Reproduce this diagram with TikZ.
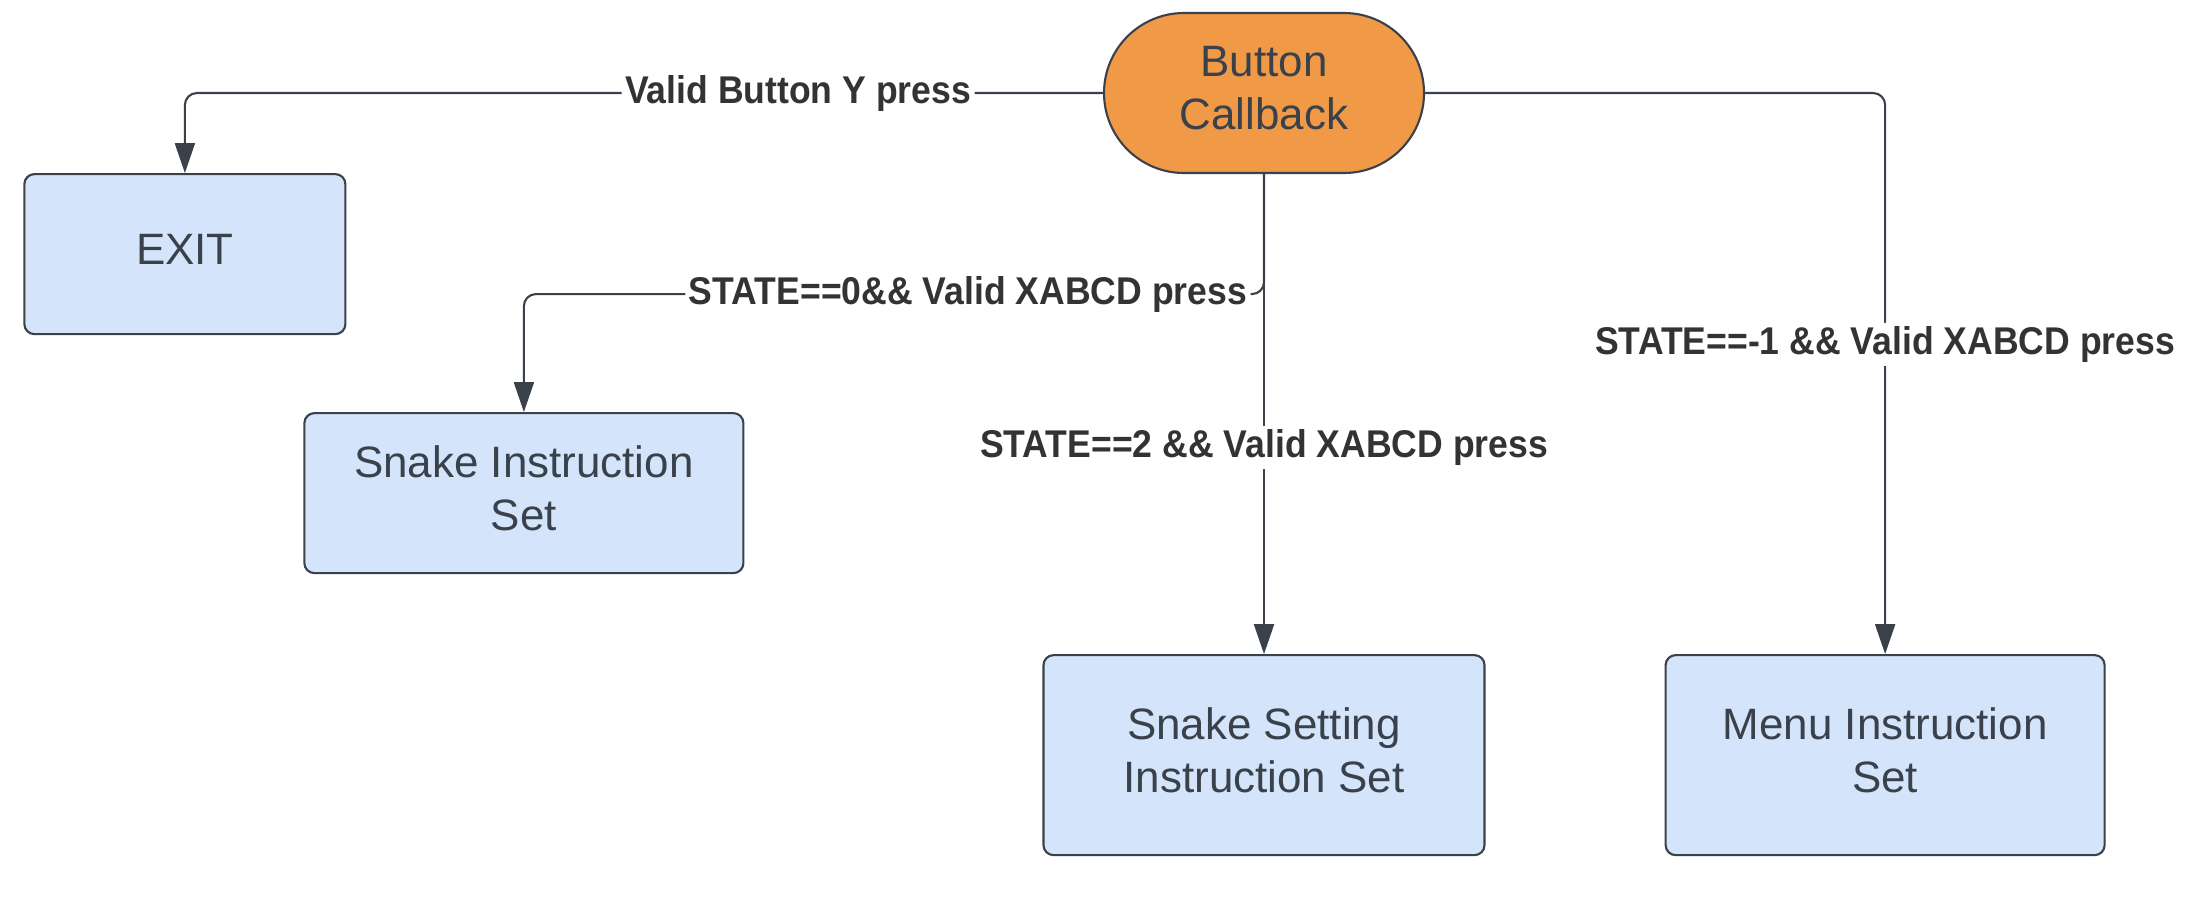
\documentclass[tikz,border=0pt]{standalone}
\usepackage{fontspec}
\setmainfont{Liberation Sans}
\newfontfamily\lblfont[FakeStretch=0.92]{Liberation Sans}
\usepackage{tikz}
\usetikzlibrary{arrows.meta, positioning, calc}
\usepackage{xcolor}
\definecolor{ink}{HTML}{3A414A}
\definecolor{boxblue}{HTML}{D3E4FB}
\definecolor{cborange}{HTML}{F09A48}
\tikzstyle{block} = [rectangle, rounded corners=0.1cm, minimum width=4.39cm, minimum height=1.6cm, align=center, draw=ink, line width=0.6pt, fill=boxblue, text=ink, font=\fontsize{12.5}{15}\selectfont, execute at end node={\rule[-0.1cm]{0pt}{0pt}}]
\tikzstyle{arrow} = [draw=ink, line width=0.6pt, rounded corners=0.12cm, -{Triangle[length=0.3cm,width=0.2cm]}]
\tikzstyle{cond} = [fill=white, text=black!80, inner sep=1pt, font=\lblfont\bfseries\fontsize{11}{13}\selectfont]

\begin{document}
\begin{tikzpicture}
  \useasboundingbox (0,0) rectangle (21.98,9.08);
  \node[block, fill=cborange, rounded corners=0.8cm, minimum width=3.2cm] (cb) at (12.64,8.15) {Button\\Callback};
  \node[block, minimum width=3.21cm, below left=-0.01cm and 7.565cm of cb] (exit) {EXIT};
  \node[block, below left=2.38cm and 3.585cm of cb] (snake) {Snake Instruction\\Set};
  \node[block, minimum width=4.41cm, minimum height=2cm, below=4.8cm of cb] (setting) {Snake Setting\\Instruction Set};
  \node[block, minimum height=2cm, below right=4.8cm and 2.395cm of cb] (menu) {Menu Instruction\\Set};

  \coordinate (bend) at ($(snake.north)+(0,1.18)$);

  \draw[arrow] (cb.west) -| node[cond, pos=0.166] {Valid Button Y press} (exit.north);
  \draw[arrow] (cb.south) |- node[cond, pos=0.7] {STATE==0\&\& Valid XABCD press} (bend) -- (snake.north);
  \draw[arrow] (cb.south) -- node[cond, pos=0.57] {STATE==2 \&\& Valid XABCD press} (setting.north);
  \draw[arrow] (cb.east) -| node[cond, pos=0.724] {STATE==-1 \&\& Valid XABCD press} (menu.north);
\end{tikzpicture}
\end{document}
